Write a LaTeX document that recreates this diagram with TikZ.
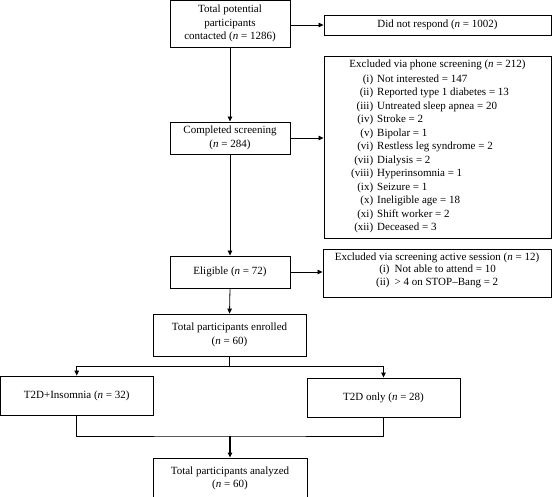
\documentclass[tikz,border=0pt]{standalone}
\usepackage{fontspec}
\setmainfont{Liberation Serif}
\usetikzlibrary{arrows.meta}
\newcommand{\nn}{\textit{n}}
\begin{document}
\begin{tikzpicture}[x=1pt,y=-1pt,
  font=\fontsize{11}{13.5}\selectfont,
  box/.style={draw, line width=0.9pt, align=center, inner sep=0pt},
  txt/.style={inner sep=0pt, align=center},
  arr/.style={-{Triangle[length=5pt,width=4.5pt]}, line width=0.8pt},
  ln/.style={line width=0.8pt}]
\useasboundingbox (0,0) rectangle (552,497);
\clip (0,0) rectangle (552,497);
% boxes
\node[box, minimum width=120pt, minimum height=46.5pt] (top) at (230,23.75) {Total potential\\participants\\contacted (\nn{} = 1286)};
\node[box, minimum width=227pt, minimum height=20pt] (dnr) at (437.5,25) {Did not respond (\nn{} = 1002)};
\node[box, minimum width=227pt, minimum height=182pt] (phone) at (437.5,147) {};
\node[txt] (phonehead) at (437.5,64.5) {Excluded via phone screening (\nn{} = 212)};
\node[txt, anchor=north west] (phonelist) at (351,72.5) {%
\begin{tabular}{@{}r@{\hspace{4pt}}l@{}}
(i) & Not interested = 147\\
(ii) & Reported type 1 diabetes = 13\\
(iii) & Untreated sleep apnea = 20\\
(iv) & Stroke = 2\\
(v) & Bipolar = 1\\
(vi) & Restless leg syndrome = 2\\
(vii) & Dialysis = 2\\
(viii) & Hyperinsomnia = 1\\
(ix) & Seizure = 1\\
(x) & Ineligible age = 18\\
(xi) & Shift worker = 2\\
(xii) & Deceased = 3
\end{tabular}};
\node[box, minimum width=120pt, minimum height=32pt] (comp) at (230,138) {Completed screening\\(\nn{} = 284)};
\node[box, minimum width=120pt, minimum height=32pt] (elig) at (230,272) {Eligible (\nn{} = 72)};
\node[box, minimum width=228pt, minimum height=48pt] (active) at (437,273) {};
\node[txt] (activehead) at (437,258) {Excluded via screening active session (\nn{} = 12)};
\node[txt, anchor=north west] (activelist) at (376,264) {\fontsize{11}{12.5}\selectfont
\begin{tabular}{@{}r@{\hspace{5pt}}l@{}}
(i) & Not able to attend = 10\\
(ii) & > 4 on STOP–Bang = 2
\end{tabular}};
\node[box, minimum width=153pt, minimum height=42pt] (enr) at (229.5,335) {Total participants enrolled\\(\nn{} = 60)};
\node[box, minimum width=152.5pt, minimum height=39pt] (ins) at (76.75,395.5) {T2D+Insomnia (\nn{} = 32)};
\node[box, minimum width=153pt, minimum height=39pt] (only) at (383.5,397.5) {T2D only (\nn{} = 28)};
\node[box, minimum width=154pt, minimum height=41pt] (ana) at (230,478.5) {Total participants analyzed\\(\nn{} = 60)};
% connectors
\draw[arr] (dnr.west -| top.east) -- (dnr.west);
\draw[arr] (top.south) -- (comp.north);
\draw[arr] (comp.east) -- (comp.east -| phone.west);
\draw[arr] (comp.south) -- (elig.north);
\draw[arr] (elig.east) -- (elig.east -| active.west);
\draw[arr] (elig.south) -- (enr.north);
\coordinate (br) at (229.5,366);
\coordinate (mg) at (230,436);
\draw[ln] (enr.south) -- (br);
\draw[arr] (br) -| (ins.north);
\draw[arr] (br) -| (only.north);
\draw[ln] (ins.south) |- (mg) -| (only.south);
\draw[arr, line width=1.2pt] (mg) -- (ana.north);
\end{tikzpicture}
\end{document}
